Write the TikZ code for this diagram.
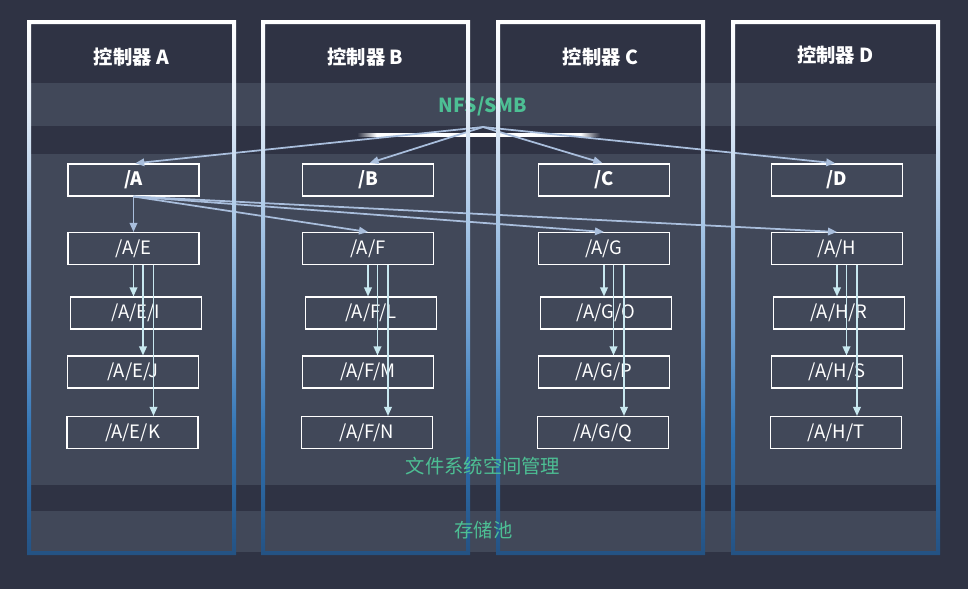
\documentclass[tikz,border=0pt]{standalone}
\usepackage{fontspec}
\usepackage{xcolor}
\usetikzlibrary{arrows.meta}

\newfontfamily\cjk{Noto Sans CJK SC}

\definecolor{bgdark}{HTML}{2F3344}
\definecolor{bandgrey}{HTML}{414859}
\definecolor{nfsgreen}{HTML}{4DBF94}
\definecolor{linkblue}{HTML}{A9BEDC}
\definecolor{subcyan}{HTML}{C8E8F0}
\definecolor{rimdeep}{HTML}{245283}
\definecolor{rimblue}{HTML}{2F72B2}
\definecolor{rimmid}{HTML}{6EA0D2}
\definecolor{rimlight}{HTML}{B3CEEA}
\definecolor{rimpale}{HTML}{E4EDF8}

\pgfdeclareverticalshading{rimshade}{100bp}{color(0bp)=(rimdeep); color(25bp)=(rimdeep); color(36bp)=(rimblue); color(46bp)=(rimmid); color(58bp)=(rimlight); color(67bp)=(rimpale); color(75bp)=(white); color(100bp)=(white)}
\pgfdeclarehorizontalshading{barfade}{100bp}{color(0bp)=(bgdark); color(25bp)=(bgdark); color(29bp)=(white); color(71bp)=(white); color(75bp)=(bgdark); color(100bp)=(bgdark)}

\tikzset{
  dirbox/.style={rectangle, draw=white, line width=0.6pt, minimum width=2.62cm, minimum height=0.64cm, inner sep=0pt, text=white, font=\cjk\fontsize{10.5}{12}\selectfont},
  topdir/.style={dirbox, font=\cjk\fontsize{10.5}{12}\selectfont\bfseries},
  ctrltitle/.style={text=white, font=\cjk\fontsize{11}{13}\selectfont\bfseries},
  layertitle/.style={text=nfsgreen, font=\cjk\fontsize{11}{13}\selectfont},
  treelink/.style={draw=linkblue, line width=1pt, -{Triangle[length=0.18cm, width=0.15cm]}},
  sublink/.style={draw=subcyan, line width=1pt, -{Triangle[length=0.18cm, width=0.15cm]}}
}

\begin{document}
\begin{tikzpicture}[x=0.02cm, y=-0.02cm]
% background and layers
\fill[bgdark] (0,0) rectangle (968,589);
\fill[bandgrey] (30,83) rectangle (937,126);
\fill[bandgrey] (30,154) rectangle (937,485);
\fill[bandgrey] (30,511) rectangle (937,552);

\node[layertitle, font=\cjk\fontsize{11}{13}\selectfont\bfseries] (nfs) at (483,106) {NFS/SMB};

\shade[shading=barfade] (357,133.5) rectangle (600,136.5);
\coordinate (hub) at (483,127);

% directories
\node[topdir] (dA) at (133.5,180) {/A};
\node[topdir] (dB) at (368,180) {/B};
\node[topdir] (dC) at (604,180) {/C};
\node[topdir] (dD) at (837,180) {/D};

\node[dirbox] (dAE) at (133.5,248.5) {/A/E};
\node[dirbox] (dAF) at (368,248.5) {/A/F};
\node[dirbox] (dAG) at (604,248.5) {/A/G};
\node[dirbox] (dAH) at (837,248.5) {/A/H};

\node[dirbox] (dAEI) at (136,313) {/A/E/I};
\node[dirbox] (dAFL) at (371,313) {/A/F/L};
\node[dirbox] (dAGO) at (606,313) {/A/G/O};
\node[dirbox] (dAHR) at (839,313) {/A/H/R};

\node[dirbox] (dAEJ) at (133,372) {/A/E/J};
\node[dirbox] (dAFM) at (368,372) {/A/F/M};
\node[dirbox] (dAGP) at (604,372) {/A/G/P};
\node[dirbox] (dAHS) at (837,372) {/A/H/S};

\node[dirbox] (dAEK) at (132.5,432.5) {/A/E/K};
\node[dirbox] (dAFN) at (367,432.5) {/A/F/N};
\node[dirbox] (dAGQ) at (603,432.5) {/A/G/Q};
\node[dirbox] (dAHT) at (836,432.5) {/A/H/T};

% links
\foreach \t in {A,B,C,D}
  \draw[treelink, shorten >=1pt] (hub) -- (d\t.north);
\foreach \t in {E,F,G,H}
  \draw[treelink] (dA.south) -- (dA\t.north);
\foreach \m/\a/\b/\c in {E/I/J/K, F/L/M/N, G/O/P/Q, H/R/S/T} {
  \coordinate (j\m) at ([xshift=0.19cm]dA\m.south);
  \coordinate (k\m) at ([xshift=0.4cm]dA\m.south);
  \draw[sublink] (dA\m.south) -- (dA\m.south |- dA\m\a.north);
  \draw[sublink] (j\m) -- (j\m |- dA\m\b.north);
  \draw[sublink] (k\m) -- (k\m |- dA\m\c.north);
}

% controllers
\foreach \x/\n/\y in {27/A/57, 261/B/57, 496/C/57, 731/D/55} {
  \shade[shading=rimshade, even odd rule] (\x,20) rectangle (\x+209,555) (\x+4,24) rectangle (\x+205,551);
  \node[ctrltitle] (ctrl\n) at (\x+104.5,\y) {控制器 \n};
}

\node[layertitle] (fsm) at (483,466) {文件系统空间管理};
\node[layertitle] (pool) at (483.5,530) {存储池};
\end{tikzpicture}
\end{document}
